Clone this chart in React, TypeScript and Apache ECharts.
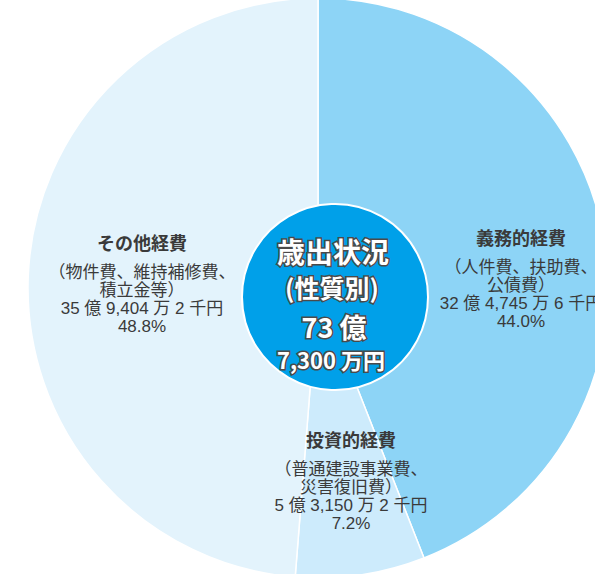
import React, { useEffect, useRef } from "react";
import * as echarts from "echarts";

// ---- data ----
const categories = ["義務的経費", "投資的経費", "その他経費"];
const detailLine1 = ["（人件費、扶助費、", "（普通建設事業費、", "（物件費、維持補修費、"];
const detailLine2 = ["公債費）", "災害復旧費）", "積立金等）"];
const amountsThousandYen = [3247456, 531502, 3594042];
const percents = [44.0, 7.2, 48.8];
const centerTitle = ["歳出状況", "(性質別)"];
const centerTotal = ["73 億", "7,300 万円"];

// ---- styles ----
const sliceColors = ["#8dd4f6", "#cdebfc", "#e3f3fc"];
const labelCenters = [
  [521, 273],
  [351, 475],
  [142, 278],
];

function fmtAmount(v: number): string {
  const oku = Math.floor(v / 100000);
  const man = Math.floor((v % 100000) / 10);
  const sen = v % 10;
  return `${oku} 億 ${man.toLocaleString("en-US")} 万 ${sen} 千円`;
}

export default function App() {
  const ref = useRef<HTMLDivElement>(null);
  useEffect(() => {
    if (!ref.current) return;
    const chart = echarts.init(ref.current, undefined, { renderer: "svg" });
    const font = '"Noto Sans CJK JP", "Noto Sans", sans-serif';
    const bodyFont = '"Liberation Sans", "Noto Sans CJK JP", sans-serif';
    const data = categories.map((name, i) => ({
      name,
      value: amountsThousandYen[i],
      itemStyle: { color: sliceColors[i] },
    }));
    const centerText = (text: string, x: number, y: number, size: number) => ({
      type: "text",
      x,
      y,
      z: 11,
      style: {
        text,
        fill: "#ffffff",
        stroke: "#4a4a4a",
        lineWidth: 3,
        font: `bold ${size}px ${font}`,
        textAlign: "center",
        textVerticalAlign: "middle",
      },
    });
    chart.setOption({
      animation: false,
      series: [
        {
          type: "pie",
          center: [318, 288],
          radius: [0, 290],
          startAngle: 90,
          clockwise: true,
          silent: true,
          itemStyle: { borderColor: "#ffffff", borderWidth: 1.5 },
          labelLine: { show: false },
          label: {
            show: true,
            position: "inside",
            color: "#3a3a3a",
            fontFamily: font,
            formatter: (p: any) => {
              const i = p.dataIndex;
              return [
                `{t|${categories[i]}}`,
                `{b|${detailLine1[i]}}`,
                `{b|${detailLine2[i]}}`,
                `{b|${fmtAmount(amountsThousandYen[i])}}`,
                `{b|${percents[i].toFixed(1)}%}`,
              ].join("\n");
            },
            rich: {
              t: {
                fontSize: 18,
                fontWeight: "bold",
                lineHeight: 42,
                color: "#3a3a3a",
                fontFamily: font,
              },
              b: {
                fontSize: 17,
                lineHeight: 18,
                color: "#3a3a3a",
                fontFamily: bodyFont,
              },
            },
          },
          labelLayout: (params: any) => ({
            x: labelCenters[params.dataIndex][0],
            y: labelCenters[params.dataIndex][1],
            align: "center",
            verticalAlign: "middle",
          }),
          data,
        },
      ],
      graphic: [
        {
          type: "circle",
          shape: { cx: 335, cy: 297, r: 93 },
          style: { fill: "#00a0e9", stroke: "#ffffff", lineWidth: 2 },
          z: 10,
        },
        centerText(centerTitle[0], 333, 251, 28),
        centerText(centerTitle[1], 332, 287, 25),
        centerText(centerTotal[0], 334, 326, 27),
        centerText(centerTotal[1], 331, 359, 22),
      ],
    });
    return () => chart.dispose();
  }, []);
  return (
    <div
      ref={ref}
      style={{ position: "absolute", left: 0, top: 0, width: 595, height: 574 }}
    />
  );
}
